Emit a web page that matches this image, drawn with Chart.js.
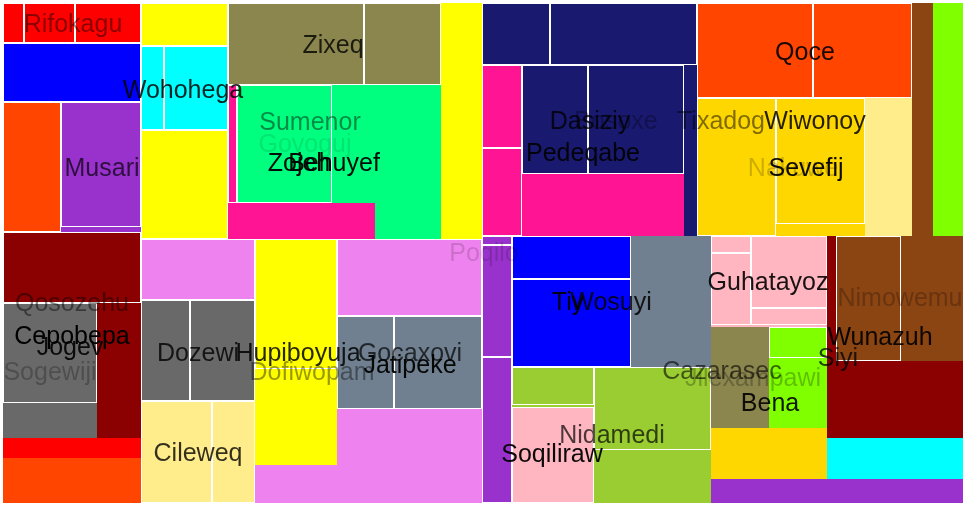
<!DOCTYPE html>
<html>
<head>
<meta charset="utf-8">
<script src="https://cdn.jsdelivr.net/npm/chart.js@4/dist/chart.umd.min.js"></script>
<style>html,body{margin:0;padding:0;background:#fff;}canvas{display:block;}</style>
</head>
<body>
<canvas id="c" width="968" height="507"></canvas>
<script>
// Colour categories of the cells
const tones = ['#FF0000','#0000FF','#FF4500','#9932CC','#8B0000','#696969','#FFFF00','#00FFFF',
  '#8B864E','#FF1493','#00FF7F','#EE82EE','#FFEC8B','#708090','#191970','#9ACD32','#FFB6C1',
  '#FFD700','#8B4513','#7FFF00'];
// cell extents on the value axes (x: 3..963, y: 3..503)
const cellX0 = [3,3,24,75,3,3,61,61,3,3,3,3,3,3,141,141,141,164,141,228,364,228,228,237,332,228,375,441,141,141,141,190,141,212,255,255,337,337,394,482,550,482,482,522,522,522,588,482,482,482,512,512,631,512,512,512,594,697,813,697,697,776,865,912,933,711,711,711,751,751,827,836,836,711,769,769,711,827,711];
const cellX1 = [141,24,75,141,141,61,141,141,141,141,97,97,141,141,228,228,164,228,228,364,441,375,237,332,375,375,441,482,482,255,190,255,212,255,337,337,482,394,482,550,697,522,522,697,684,588,684,512,512,512,631,631,711,711,594,594,711,813,912,865,776,865,912,933,963,827,751,751,827,827,963,963,901,769,827,827,827,963,963];
const cellY0 = [3,3,3,3,43,102,102,102,232,232,303,303,438,458,3,3,46,46,130,3,3,85,85,85,85,203,85,3,239,239,300,300,401,401,239,239,239,316,316,3,3,65,148,65,65,65,65,236,245,357,236,279,236,367,367,407,367,3,3,98,98,98,98,3,3,236,236,253,236,308,236,236,236,327,327,327,428,438,479];
const cellY1 = [43,43,43,43,102,232,232,227,438,303,438,403,458,503,239,46,130,130,239,85,85,239,203,203,203,239,239,239,503,300,401,401,503,503,465,369,316,409,409,65,65,148,236,236,236,174,174,245,357,503,279,367,367,503,405,503,450,98,98,236,236,224,236,236,236,327,253,325,308,325,438,361,361,428,428,358,479,479,503];
const cellTone = [0,0,0,0,1,2,3,3,4,4,5,5,0,2,6,6,7,7,6,8,8,9,9,10,10,9,10,6,11,11,5,5,12,12,6,6,11,13,13,14,14,9,9,14,9,14,14,3,3,3,1,1,13,15,15,16,15,2,2,17,17,17,12,18,19,16,16,16,16,16,4,18,18,8,19,19,17,7,3];
const cellEdge = [0,1,1,1,1,1,0,1,0,1,0,1,0,0,0,1,1,1,1,1,1,0,1,1,0,0,0,0,0,1,1,1,1,1,0,1,1,1,1,1,1,1,1,0,0,1,1,1,1,1,1,1,0,0,1,1,1,1,1,0,1,1,0,0,0,0,1,1,1,1,0,0,1,0,0,1,0,0,0];

// Labels
const labelText = ['Rifokagu','Wohohega','Musari','Zixeq','Sumenor','Govoguj','Zojeh','Behuyef','Dasiziy','Bosoxe','Tixadog','Pedeqabe','Qoce','Wiwonoy','Nakuwe','Sevefij','Qosozehu','Cepobepa','Jogev','Sogewiji','Dozewi','Hupiboyuja','Gocaxovi','Jatipeke','Dofiwopam','Cileweq','Poqilo','Tiy','Wosuyi','Guhatayoz','Nimowemu','Wunazuh','Siyi','Cazarasec','Jilexampawi','Bena','Nidamedi','Soqiliraw'];
const labelX = [73,183,102,333,310,305,299,334,590,616,721,583,805,815,793,806,72,72,70,50,198,298,410,410,312,198,484,568,611,768,900,880,838,722,753,770,612,552];
const labelY = [25,91,169,46,123,145,164,164,122,122,122,154,53,122,169,169,304,337,348,373,354,354,354,366,373,454,254,303,303,283,299,338,359,372,379,404,436,455];
const labelAlpha = [0.45,0.85,0.7,0.8,0.45,0.1,0.95,0.95,0.8,0.3,0.5,0.9,0.9,0.85,0.2,0.95,0.45,1,0.9,0.25,0.8,0.85,0.7,0.95,0.4,0.8,0.15,0.9,0.85,0.9,0.25,0.9,0.75,0.6,0.25,0.9,0.7,0.95];

const treemapPlugin = {
  id: 'cells',
  beforeDatasetsDraw(chart) {
    const {ctx, scales: {x, y}} = chart;
    ctx.save();
    for (let i = 0; i < cellX0.length; i++) {
      const px0 = Math.round(x.getPixelForValue(cellX0[i]));
      const px1 = Math.round(x.getPixelForValue(cellX1[i]));
      const py0 = Math.round(y.getPixelForValue(cellY0[i]));
      const py1 = Math.round(y.getPixelForValue(cellY1[i]));
      ctx.fillStyle = tones[cellTone[i]];
      ctx.fillRect(px0, py0, px1 - px0, py1 - py0);
      if (cellEdge[i]) {
        ctx.strokeStyle = '#FFFFFF';
        ctx.lineWidth = 1;
        ctx.strokeRect(px0 + 0.5, py0 + 0.5, px1 - px0 - 1, py1 - py0 - 1);
      }
    }
    ctx.font = '25px "Liberation Sans", Arial, sans-serif';
    ctx.textAlign = 'center';
    ctx.textBaseline = 'middle';
    for (let i = 0; i < labelText.length; i++) {
      ctx.fillStyle = 'rgba(0,0,0,' + labelAlpha[i] + ')';
      ctx.fillText(labelText[i], x.getPixelForValue(labelX[i]), y.getPixelForValue(labelY[i]));
    }
    ctx.restore();
  }
};

new Chart(document.getElementById('c'), {
  type: 'scatter',
  data: { datasets: [{ data: [] }] },
  options: {
    responsive: false,
    animation: false,
    layout: { padding: { left: 3, top: 3, right: 5, bottom: 4 } },
    plugins: { legend: { display: false }, tooltip: { enabled: false } },
    scales: {
      x: { type: 'linear', display: false, min: 3, max: 963 },
      y: { type: 'linear', display: false, min: 3, max: 503, reverse: true }
    }
  },
  plugins: [treemapPlugin]
});
</script>
</body>
</html>
